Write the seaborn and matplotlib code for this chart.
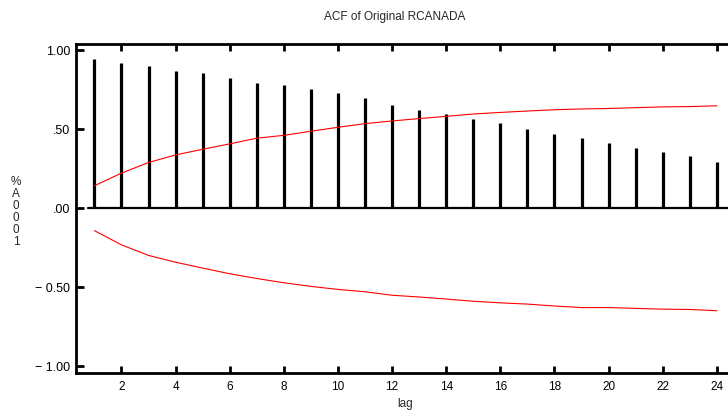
import matplotlib
matplotlib.use("Agg")
import matplotlib.pyplot as plt
import seaborn as sns
import pandas as pd
import numpy as np

# ---- data ----
lags = list(range(1, 25))
acf = [0.944, 0.917, 0.896, 0.869, 0.852, 0.820, 0.793, 0.778, 0.751, 0.730,
       0.696, 0.654, 0.620, 0.593, 0.566, 0.536, 0.503, 0.467, 0.442, 0.410,
       0.377, 0.355, 0.328, 0.292]
upper = [0.141, 0.221, 0.288, 0.336, 0.372, 0.406, 0.442, 0.460, 0.486, 0.511,
         0.534, 0.551, 0.566, 0.580, 0.595, 0.605, 0.614, 0.622, 0.627, 0.630,
         0.635, 0.640, 0.642, 0.647]
lower = [-0.143, -0.233, -0.300, -0.343, -0.380, -0.416, -0.446, -0.473, -0.496, -0.515,
         -0.530, -0.552, -0.563, -0.576, -0.590, -0.600, -0.608, -0.620, -0.630, -0.630,
         -0.635, -0.640, -0.642, -0.650]
xticks = [2, 4, 6, 8, 10, 12, 14, 16, 18, 20, 22, 24]
yticks = [1.0, 0.5, 0.0, -0.5, -1.0]
ytick_labels = ["1.00", ".50", ".00", "\u2212 0.50", "\u2212 1.00"]
title = "ACF of Original RCANADA"
xlabel = "lag"
ylabel = "%A0001"

df = pd.DataFrame({"lag": lags, "acf": acf, "upper": upper, "lower": lower})

sns.set_style("white")
plt.rcParams["font.family"] = ["Liberation Sans", "DejaVu Sans"]

fig = plt.figure(figsize=(7.28, 4.11), dpi=100)
ax = fig.add_axes([76 / 728, 1 - 373 / 411, (735 - 76) / 728, (373 - 44) / 411])

# zero baseline
ax.axhline(0, xmin=(0.78 - 0.32) / (24.67 - 0.32), color="black", lw=1.6, zorder=2)

# ACF spikes
ax.vlines(df["lag"], 0, df["acf"], color="black", lw=2.3, zorder=3)

# confidence bands
sns.lineplot(data=df, x="lag", y="upper", color="red", lw=0.8, ax=ax, zorder=4)
sns.lineplot(data=df, x="lag", y="lower", color="red", lw=0.8, ax=ax, zorder=4)

ax.set_xlim(0.32, 24.67)
ax.set_ylim(-1.044, 1.038)

ax.set_xticks(xticks)
ax.set_xticklabels([str(t) for t in xticks], fontsize=8.5)
ax.set_yticks(yticks)
ax.set_yticklabels(ytick_labels, fontsize=9)

ax.tick_params(axis="x", direction="in", length=5, width=2, top=True, bottom=True,
               labeltop=False, pad=6, colors="black")
ax.tick_params(axis="y", direction="in", length=6, width=2, left=True, right=False,
               pad=4, colors="black")

for side in ["left", "top", "bottom"]:
    ax.spines[side].set_linewidth(2.0)
    ax.spines[side].set_color("black")
ax.spines["right"].set_visible(False)

ax.set_xlabel("")
ax.set_ylabel("")

fig.text(395 / 728, 1 - 17 / 411, title, ha="center", va="center", fontsize=8.5)
fig.text(405 / 728, 1 - 404 / 411, xlabel, ha="center", va="center", fontsize=8.5)
fig.text(16 / 728, 1 - 212 / 411, "\n".join(ylabel), ha="center", va="center",
         fontsize=8.5, linespacing=1.0)

fig.savefig("out.png", dpi=100)
